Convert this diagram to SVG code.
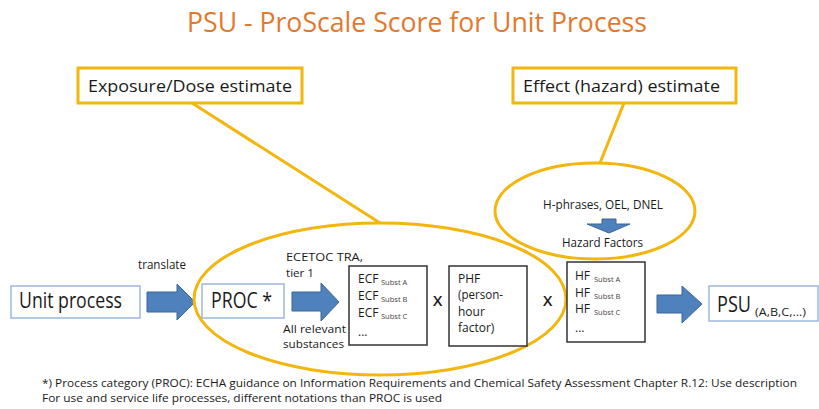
<svg xmlns="http://www.w3.org/2000/svg" width="819" height="409" viewBox="0 0 819 409">
<style>
text{font-family:"Open Sans","Liberation Sans",sans-serif;fill:#1a1a1a}
.title{fill:#E2782E;font-size:28px}
.gold{fill:none;stroke:#F2B60F;stroke-width:3}
.goldbox{fill:#fff;stroke:#F2B60F;stroke-width:3}
.bluebox{fill:#fff;stroke:#9DB8DC;stroke-width:1.5}
.blkbox{fill:#fff;stroke:#333;stroke-width:1.5}
.arrow{fill:#4F81BD;stroke:#3A6699;stroke-width:1}
.big{font-size:21px}
.lbl{font-size:17px}
.sm{font-size:12px}
.ts{font-size:11px}
.sub{font-size:7.5px;fill:#444}
.x{font-size:15px;font-weight:600}
.fn{font-size:11px}
</style>
<rect width="819" height="409" fill="#fff"/>
<text class="title" x="187" y="32" textLength="460" lengthAdjust="spacingAndGlyphs">PSU - ProScale Score for Unit Process</text>

<g id="connectors">
<line class="gold" x1="192" y1="103" x2="380" y2="223"/>
<line class="gold" x1="624" y1="103" x2="600" y2="163"/>
<path class="arrow" d="M147,292 H177 V284 L195,302 L177,320 V312 H147 Z"/>
<path class="arrow" d="M292,292 H321 V283 L339,302 L321,321 V311 H292 Z"/>
<path class="arrow" d="M657,295 H682 V286 L702,304 L682,323 V313 H657 Z"/>
<text class="sm" x="138" y="269" textLength="48" lengthAdjust="spacingAndGlyphs">translate</text>
<text class="ts" x="286" y="261" textLength="77" lengthAdjust="spacingAndGlyphs">ECETOC TRA,</text>
<text class="ts" x="286" y="277" textLength="28" lengthAdjust="spacingAndGlyphs">tier 1</text>
<text class="ts" x="283" y="333" textLength="63" lengthAdjust="spacingAndGlyphs">All relevant</text>
<text class="ts" x="283" y="348" textLength="61" lengthAdjust="spacingAndGlyphs">substances</text>
</g>

<g id="exposure-label">
<rect class="goldbox" x="78" y="68" width="224" height="35"/>
<text class="lbl" x="88" y="92" textLength="204" lengthAdjust="spacingAndGlyphs">Exposure/Dose estimate</text>
</g>

<g id="effect-label">
<rect class="goldbox" x="513" y="68" width="223" height="35"/>
<text class="lbl" x="523" y="92" textLength="197" lengthAdjust="spacingAndGlyphs">Effect (hazard) estimate</text>
</g>

<g id="exposure-ellipse">
<ellipse class="gold" cx="380" cy="299" rx="186" ry="76"/>
</g>

<g id="hazard-ellipse">
<ellipse class="gold" cx="595" cy="211" rx="100" ry="48"/>
<text class="sm" x="543" y="209" textLength="120" lengthAdjust="spacingAndGlyphs">H-phrases, OEL, DNEL</text>
<path class="arrow" d="M602,219 H616 V224 H630 L609,233 L587,224 H602 Z"/>
<text class="sm" x="562" y="247" textLength="81" lengthAdjust="spacingAndGlyphs">Hazard Factors</text>
</g>

<g id="unit-process">
<rect class="bluebox" x="11" y="286" width="129" height="32"/>
<text class="big" x="19" y="308" textLength="103" lengthAdjust="spacingAndGlyphs">Unit process</text>
</g>

<g id="proc">
<rect class="bluebox" x="202" y="284" width="82" height="34"/>
<text class="big" x="211" y="308" textLength="61" lengthAdjust="spacingAndGlyphs">PROC *</text>
</g>

<g id="ecf">
<rect class="blkbox" x="349" y="266" width="78" height="79"/>
<text class="sm" x="358" y="283">ECF<tspan class="sub" x="381" dy="2">Subst A</tspan></text>
<text class="sm" x="358" y="300">ECF<tspan class="sub" x="381" dy="2">Subst B</tspan></text>
<text class="sm" x="358" y="317">ECF<tspan class="sub" x="381" dy="2">Subst C</tspan></text>
<text class="sm" x="358" y="336">...</text>
</g>

<text class="x" x="433" y="306">X</text>

<g id="phf">
<rect class="blkbox" x="449" y="266" width="78" height="80"/>
<text class="sm" x="458" y="283">PHF</text>
<text class="sm" x="458" y="299" textLength="45" lengthAdjust="spacingAndGlyphs">(person-</text>
<text class="sm" x="458" y="316">hour</text>
<text class="sm" x="458" y="332">factor)</text>
</g>

<text class="x" x="543" y="306">X</text>

<g id="hf">
<rect class="blkbox" x="567" y="262" width="78" height="80"/>
<text class="sm" x="575" y="280">HF<tspan class="sub" x="594" dy="2">Subst A</tspan></text>
<text class="sm" x="575" y="297">HF<tspan class="sub" x="594" dy="2">Subst B</tspan></text>
<text class="sm" x="575" y="313">HF<tspan class="sub" x="594" dy="2">Subst C</tspan></text>
<text class="sm" x="575" y="332">...</text>
</g>

<g id="psu">
<rect class="bluebox" x="709" y="286" width="109" height="35"/>
<text class="big" x="717" y="312" textLength="34" lengthAdjust="spacingAndGlyphs">PSU</text>
<text x="755" y="316" font-size="11" textLength="51" lengthAdjust="spacingAndGlyphs">(A,B,C,...)</text>
</g>

<g id="footnote">
<text class="fn" x="42" y="387" textLength="755" lengthAdjust="spacingAndGlyphs">*) Process category (PROC): ECHA guidance on Information Requirements and Chemical Safety Assessment Chapter R.12: Use description</text>
<text class="fn" x="42" y="402" textLength="400" lengthAdjust="spacingAndGlyphs">For use and service life processes, different notations than PROC is used</text>
</g>
</svg>
